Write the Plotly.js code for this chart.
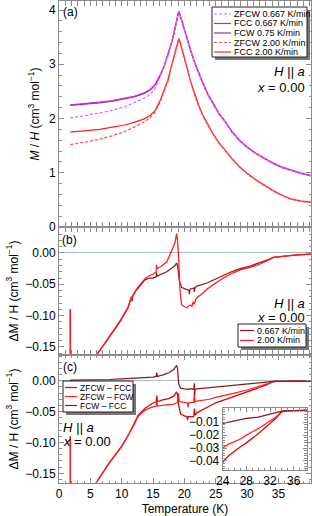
<!DOCTYPE html>
<html><head><meta charset="utf-8">
<script src="https://cdn.plot.ly/plotly-3.0.1.min.js"></script>
<style>html,body{margin:0;padding:0;background:#fff}#chart{width:312px;height:516px}</style>
</head><body><div id="chart"></div>
<script>
// ---------- Panel (a): M/H vs T ----------
const Ta = [1.8, 3, 4.5, 6.5, 8.5, 10.5, 12, 13.5, 14.5, 15.3, 16.1, 16.8, 17.4, 17.9, 18.3, 18.6, 18.9, 19.1, 19.3, 19.6, 20, 20.5, 21, 21.6, 22.3, 23, 23.8, 24.6, 25.5, 26.5, 27.6, 28.8, 30, 31.3, 32.6, 34, 35.5, 37, 38.5, 40.2];
const zfcw067 = [2.01, 2.03, 2.06, 2.10, 2.15, 2.22, 2.29, 2.37, 2.44, 2.55, 2.76, 2.96, 3.16, 3.37, 3.55, 3.71, 3.87, 3.97, 3.91, 3.79, 3.63, 3.44, 3.25, 3.04, 2.83, 2.63, 2.43, 2.26, 2.09, 1.94, 1.75, 1.59, 1.47, 1.36, 1.27, 1.18, 1.10, 1.04, 0.99, 0.94];
const fcc067 = [2.25, 2.26, 2.27, 2.30, 2.33, 2.37, 2.41, 2.47, 2.53, 2.62, 2.79, 2.98, 3.18, 3.38, 3.56, 3.72, 3.88, 3.98, 3.92, 3.80, 3.64, 3.45, 3.26, 3.05, 2.84, 2.64, 2.44, 2.27, 2.10, 1.95, 1.76, 1.60, 1.48, 1.37, 1.28, 1.19, 1.11, 1.05, 1.00, 0.95];
const fcw075 = [2.24, 2.25, 2.26, 2.29, 2.32, 2.36, 2.40, 2.46, 2.52, 2.61, 2.78, 2.97, 3.17, 3.37, 3.55, 3.71, 3.87, 3.97, 3.91, 3.79, 3.63, 3.44, 3.25, 3.04, 2.83, 2.63, 2.43, 2.26, 2.09, 1.94, 1.75, 1.59, 1.47, 1.36, 1.27, 1.18, 1.10, 1.04, 0.99, 0.94];
const zfcw200 = [1.52, 1.54, 1.57, 1.62, 1.68, 1.76, 1.84, 1.93, 2.01, 2.11, 2.29, 2.50, 2.70, 2.93, 3.12, 3.26, 3.38, 3.45, 3.40, 3.27, 3.09, 2.87, 2.66, 2.44, 2.22, 2.03, 1.86, 1.70, 1.55, 1.40, 1.25, 1.10, 0.98, 0.87, 0.77, 0.67, 0.58, 0.51, 0.47, 0.45];
const fcc200 = [1.75, 1.76, 1.77, 1.80, 1.84, 1.88, 1.93, 1.99, 2.05, 2.14, 2.32, 2.52, 2.72, 2.95, 3.14, 3.28, 3.40, 3.47, 3.42, 3.30, 3.12, 2.90, 2.68, 2.46, 2.24, 2.05, 1.87, 1.71, 1.56, 1.41, 1.26, 1.11, 0.99, 0.88, 0.78, 0.68, 0.59, 0.52, 0.48, 0.46];

// ---------- Panel (b): ΔM/H for two rates ----------
const Tb067 = [1.8, 1.82, 3, 4.5, 6.2, 8, 9.7, 11, 11.57, 11.65, 11.75, 12.3, 12.9, 13.7, 14.5, 15.0, 15.5, 15.55, 15.65, 16.5, 17.2, 18.0, 18.5, 18.76, 18.9, 19.2, 19.56, 20.0, 20.4, 20.75, 20.8, 20.9, 21.5, 21.6, 21.7, 22.0, 23.6, 25.0, 26.2, 27.5, 28.9, 30.5, 32.0, 33.5, 34.2, 36.0, 38.0, 40.2];
const dM067 = [-0.09, -0.225, -0.208, -0.185, -0.160, -0.135, -0.110, -0.088, -0.070, -0.077, -0.069, -0.060, -0.052, -0.043, -0.040, -0.040, -0.038, -0.031, -0.037, -0.033, -0.030, -0.024, -0.020, -0.016, -0.020, -0.045, -0.055, -0.057, -0.058, -0.060, -0.066, -0.058, -0.056, -0.062, -0.055, -0.053, -0.048, -0.041, -0.036, -0.030, -0.025, -0.021, -0.016, -0.010, -0.007, -0.005, -0.003, -0.002];
const Tb200 = [1.8, 1.82, 3, 4.5, 6.2, 8, 9.7, 11, 11.57, 11.65, 11.75, 12.3, 12.9, 13.7, 14.5, 15.0, 15.5, 15.56, 15.65, 16.2, 17.2, 17.96, 18.5, 18.76, 18.9, 19.1, 19.3, 19.56, 20.0, 20.4, 20.9, 21.2, 21.4, 21.6, 21.8, 22.2, 23.0, 23.6, 25.0, 26.2, 27.5, 28.9, 30.5, 32.0, 33.5, 34.2, 36.0, 38.0, 40.2];
const dM200 = [-0.09, -0.225, -0.208, -0.185, -0.160, -0.134, -0.109, -0.087, -0.070, -0.076, -0.068, -0.059, -0.051, -0.041, -0.036, -0.034, -0.030, -0.019, -0.025, -0.022, -0.014, 0.002, 0.016, 0.031, 0.020, -0.010, -0.060, -0.083, -0.086, -0.088, -0.083, -0.085, -0.078, -0.082, -0.074, -0.070, -0.064, -0.058, -0.048, -0.040, -0.033, -0.027, -0.023, -0.018, -0.011, -0.007, -0.005, -0.003, -0.002];

// ---------- Panel (c): differences ----------
const Tc1 = [1.8, 1.82, 3, 4.5, 6.2, 8, 10, 11, 12, 12.6, 13.7, 14.5, 15, 15.5, 15.6, 15.7, 16.5, 17.5, 18.3, 18.76, 18.9, 19.1, 19.4, 20, 20.4, 20.5, 20.6, 21, 21.5, 21.6, 21.7, 22, 23, 24, 25, 27, 28, 30, 32, 33, 34, 34.5, 36, 38, 40.2];
const dZFCW_FCC = [-0.09, -0.23, -0.212, -0.19, -0.161, -0.133, -0.106, -0.089, -0.069, -0.056, -0.045, -0.039, -0.036, -0.034, -0.024, -0.034, -0.031, -0.029, -0.025, -0.018, -0.022, -0.040, -0.054, -0.057, -0.058, -0.064, -0.058, -0.058, -0.058, -0.045, -0.056, -0.052, -0.046, -0.041, -0.036, -0.029, -0.026, -0.019, -0.011, -0.007, -0.002, -0.0012, -0.001, -0.001, -0.0008];
const Tc2 = [1.8, 1.82, 3, 4.5, 6.2, 8, 10, 11, 12, 12.6, 13.7, 14.5, 15, 15.5, 15.6, 15.7, 16.5, 17.5, 18.3, 18.76, 18.9, 19.05, 19.2, 19.4, 20, 20.5, 20.6, 20.7, 21, 21.5, 21.6, 21.7, 22, 24, 25, 27, 28, 30, 32, 33, 33.8, 34.5, 36, 38, 40.2];
const dZFCW_FCW = [-0.09, -0.23, -0.212, -0.19, -0.161, -0.134, -0.107, -0.090, -0.071, -0.058, -0.048, -0.044, -0.042, -0.041, -0.033, -0.041, -0.040, -0.039, -0.038, -0.036, -0.035, -0.020, -0.033, -0.034, -0.035, -0.036, -0.043, -0.036, -0.035, -0.035, -0.018, -0.034, -0.033, -0.030, -0.027, -0.023, -0.020, -0.015, -0.009, -0.006, -0.0025, -0.0012, -0.001, -0.001, -0.0008];
const Tcd = [1.8, 4, 6, 8, 10, 12, 13, 14, 15, 15.5, 15.6, 15.7, 16.5, 17.5, 18.3, 18.76, 18.9, 19.1, 19.4, 20, 20.5, 21, 21.5, 21.6, 21.65, 21.7, 22, 24, 26, 28, 30, 32, 33.5, 34.2, 36, 38, 40.2];
const dFCW_FCC = [0.001, 0.001, 0.002, 0.002, 0.003, 0.004, 0.005, 0.005, 0.006, 0.007, 0.013, 0.007, 0.009, 0.013, 0.018, 0.025, 0.020, -0.005, -0.012, -0.013, -0.014, -0.013, -0.014, -0.004, -0.022, -0.014, -0.013, -0.011, -0.009, -0.007, -0.006, -0.0035, -0.002, -0.0012, -0.001, -0.001, -0.0008];

// tick labels
const xTicks = [0, 5, 10, 15, 20, 25, 30, 35];
const insetXTicks = [24, 28, 32, 36];
const insetYTicks = [-0.04, -0.03, -0.02, -0.01];

// legend texts
const legA = ['ZFCW 0.667 K/min', 'FCC 0.667 K/min', 'FCW 0.75 K/min', 'ZFCW 2.00 K/min', 'FCC 2.00 K/min'];
const legB = ['0.667 K/min', '2.00 K/min'];
const legC = ['ZFCW – FCC', 'ZFCW – FCW', 'FCW – FCC'];

// ---------- styling ----------
const FONT = '"Liberation Sans", Arial, sans-serif';
const W = 312, H = 516, ML = 59, MR = 1, MT = 1, MB = 33;
const px = x => (x - ML) / (W - ML - MR);
const py = y => (H - MB - y) / (H - MT - MB);
const FR = '#8c8c8c';
const DASH = '3px,2px';

const col = {
  zfcw067: '#f060f0', fcc067: '#d21ed2', fcw075: '#9b30a8',
  zfcw200: '#ff5050', fcc200: '#ff2020',
  b067: '#961616', b200: '#ff1a1a',
  c1: '#d80808', c2: '#ff2020', cd: '#8b1a1a'
};
const LW = 1.25;
function tr(x, y, xa, ya, color, dash) {
  return {x: x, y: y, xaxis: xa, yaxis: ya, type: 'scatter', mode: 'lines',
    line: {color: color, width: LW, dash: dash || 'solid'}, showlegend: false, hoverinfo: 'skip'};
}
const data = [
  tr(Ta, fcw075, 'x', 'y', col.fcw075),
  tr(Ta, fcc067, 'x', 'y', col.fcc067),
  tr(Ta, zfcw067, 'x', 'y', col.zfcw067, DASH),
  tr(Ta, fcc200, 'x', 'y', col.fcc200),
  tr(Ta, zfcw200, 'x', 'y', col.zfcw200, DASH),
  tr(Tb067, dM067, 'x', 'y2', col.b067),
  tr(Tb200, dM200, 'x', 'y2', col.b200),
  tr(Tc1, dZFCW_FCC, 'x', 'y3', col.c1),
  tr(Tc2, dZFCW_FCW, 'x', 'y3', col.c2),
  tr(Tcd, dFCW_FCC, 'x', 'y3', col.cd),
  tr(Tc1, dZFCW_FCC, 'x2', 'y4', col.c1),
  tr(Tc2, dZFCW_FCW, 'x2', 'y4', col.c2),
  tr(Tcd, dFCW_FCC, 'x2', 'y4', col.cd)
];

const frame = {showline: true, linecolor: FR, linewidth: 1, mirror: 'allticks', ticks: 'inside',
  ticklen: 5, tickcolor: FR, tickwidth: 1, showgrid: false, zeroline: false, automargin: false,
  tickfont: {family: FONT, size: 12, color: '#000'}};
const minor = (d, t0) => ({ticks: 'inside', ticklen: 2.5, tickcolor: FR, tickwidth: 1, tickmode: 'linear', tick0: t0 || 0, dtick: d, showgrid: false});
const ttl = (t) => ({text: t, font: {family: FONT, size: 12, color: '#000'}});

const shapes = [], annotations = [];
function txt(x, y, t, size, xanchor) {
  annotations.push({xref: 'paper', yref: 'paper', x: px(x), y: py(y), text: t, showarrow: false, borderpad: 0,
    xanchor: xanchor || 'left', yanchor: 'middle', font: {family: FONT, size: size, color: '#000'}});
}
function legend(x0, y0, x1, y1, rows, lx0, lx1, tx, fs) {
  shapes.push({type: 'rect', xref: 'paper', yref: 'paper', x0: px(x0 + 3), x1: px(x1 + 3), y0: py(y1 + 3), y1: py(y0 + 3), fillcolor: '#777', line: {width: 0}, layer: 'above'});
  shapes.push({type: 'rect', xref: 'paper', yref: 'paper', x0: px(x0), x1: px(x1), y0: py(y1), y1: py(y0), fillcolor: '#fff', line: {color: '#222', width: 1}, layer: 'above'});
  rows.forEach(r => {
    shapes.push({type: 'line', xref: 'paper', yref: 'paper', x0: px(lx0), x1: px(lx1), y0: py(r.y), y1: py(r.y), line: {color: r.c, width: 1.2, dash: r.d || 'solid'}, layer: 'above'});
    txt(tx, r.y, r.t, fs);
  });
}
legend(212, 7, 307, 57, [
  {y: 14, c: col.zfcw067, d: DASH, t: legA[0]},
  {y: 23.5, c: col.fcc067, t: legA[1]},
  {y: 33, c: col.fcw075, t: legA[2]},
  {y: 42.5, c: col.zfcw200, d: DASH, t: legA[3]},
  {y: 52, c: col.fcc200, t: legA[4]}], 214, 231, 233, 9);
legend(238, 324, 306, 347, [
  {y: 330.5, c: col.b067, t: legB[0]},
  {y: 340.5, c: col.b200, t: legB[1]}], 240, 254, 256, 9);
legend(63, 381, 133, 412, [
  {y: 387.5, c: col.c1, t: legC[0]},
  {y: 396.5, c: col.c2, t: legC[1]},
  {y: 405.5, c: col.cd, t: legC[2]}], 65, 77, 79, 8.5);

txt(62, 12, '(a)', 12);
txt(61, 240, '(b)', 12);
txt(62, 367, '(c)', 12);
const Hpa = '<i>H</i> <i>||</i> <i>a</i>', X0 = '<i>x</i> = 0.00';
txt(306, 71, Hpa, 13, 'right');
txt(306, 87, X0, 13, 'right');
txt(306, 303, Hpa, 13, 'right');
txt(306, 317, X0, 13, 'right');
txt(62, 427, Hpa, 13);
txt(62, 441, X0, 13);

const dA = [py(227), 1], dB = [py(355), py(227)], dC = [0, py(355)];
const layout = {
  width: W, height: H, margin: {l: ML, r: MR, t: MT, b: MB},
  paper_bgcolor: '#fff', plot_bgcolor: '#fff', showlegend: false,
  font: {family: FONT, size: 12, color: '#000'},
  xaxis: Object.assign({}, frame, {anchor: 'y3', range: [0, 40.2], tickmode: 'array', tickvals: xTicks,
    minor: minor(1), title: Object.assign(ttl('Temperature (K)'), {standoff: 6})}),
  yaxis: Object.assign({}, frame, {anchor: 'x', domain: dA, range: [0, 4.166], dtick: 1, minor: minor(0.2),
    title: Object.assign(ttl('<i>M</i> / <i>H</i> (cm<sup>3</sup> mol<sup>−1</sup>)'), {standoff: 6})}),
  yaxis2: Object.assign({}, frame, {anchor: 'x', domain: dB, range: [-0.163, 0.0415], dtick: 0.05, tickformat: '.2f',
    zeroline: true, zerolinecolor: '#a9bccb', zerolinewidth: 1, minor: minor(0.01),
    title: Object.assign(ttl('ΔM / H (cm<sup>3</sup> mol<sup>−1</sup>)'), {standoff: 4})}),
  yaxis3: Object.assign({}, frame, {anchor: 'x', domain: dC, range: [-0.1657, 0.0417], dtick: 0.05, tickformat: '.2f',
    zeroline: true, zerolinecolor: '#a9bccb', zerolinewidth: 1, minor: minor(0.01),
    title: Object.assign(ttl('ΔM / H (cm<sup>3</sup> mol<sup>−1</sup>)'), {standoff: 4})}),
  xaxis2: Object.assign({}, frame, {anchor: 'y4', domain: [px(222.7), px(306.7)], range: [24, 38.2],
    tickmode: 'array', tickvals: insetXTicks, ticklen: 4, minor: minor(1)}),
  yaxis4: Object.assign({}, frame, {anchor: 'x2', domain: [py(470), py(408)], range: [-0.047, 0.001],
    tickmode: 'array', tickvals: insetYTicks, tickformat: '.2f', ticklen: 4, minor: minor(0.002)}),
  shapes: shapes, annotations: annotations
};
Plotly.newPlot('chart', data, layout, {staticPlot: true, displayModeBar: false});
</script></body></html>
